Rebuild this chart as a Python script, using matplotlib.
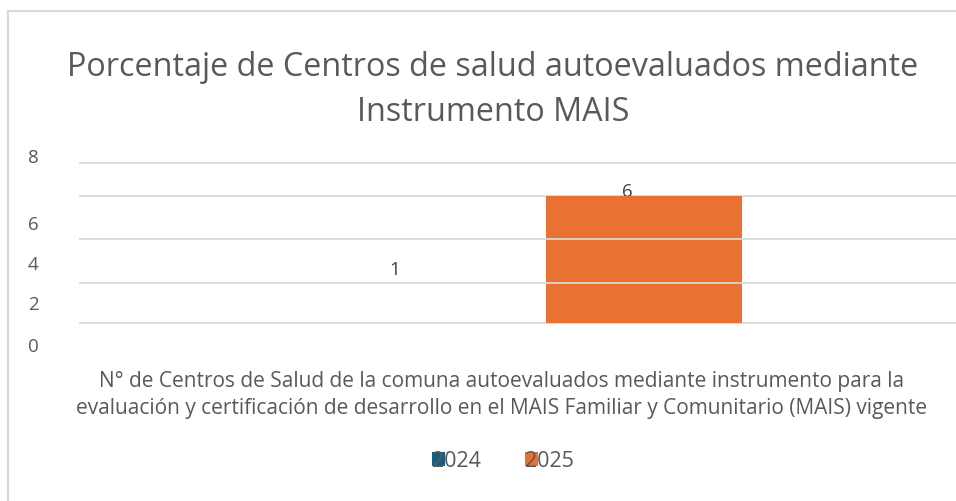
import matplotlib.pyplot as plt
from matplotlib.lines import Line2D
from matplotlib.patches import Patch

# datos del grafico
years = ["2024", "2025"]
values = [1, 6]
colors = ["#156082", "#E97132"]
category = ("N° de Centros de Salud de la comuna autoevaluados mediante instrumento para la\n"
            "evaluación y certificación de desarrollo en el MAIS Familiar y Comunitario (MAIS) vigente")
title = "Porcentaje de Centros de salud autoevaluados mediante\nInstrumento MAIS"
ytick_labels = ["0", "2", "4", "6", "8"]

W, H = 956, 502
TXT = "#595959"
GRID = "#D9D9D9"
plt.rcParams['font.family'] = ['Open Sans', 'DejaVu Sans']

fig = plt.figure(figsize=(W / 100, H / 100), dpi=100)

# area de trazado en pixeles: x 80..956, y 164..324
px_unit = 127 / 6.0            # pixeles por unidad del eje y
ymax = (324 - 164) / px_unit
ax = fig.add_axes([80 / W, (H - 324) / H, (W - 80) / W, (324 - 164) / H])
ax.set_xlim(-2.378, 2.092)
ax.set_ylim(0, ymax)
for s in ax.spines.values():
    s.set_visible(False)
ax.set_xticks([])
ax.set_yticks([])

# lineas de division
for gy in [324, 284, 240, 197, 164]:
    ax.axhline((324 - gy) / px_unit, color=GRID, lw=1.3, zorder=1, clip_on=False)

# barras (la de 2024 queda sin relleno)
xs = [-0.5, 0.5]
ax.bar(xs[1], values[1], width=1.0, color=colors[1], zorder=3)
ax.bar(xs[0], values[0], width=1.0, color="none", zorder=3)
# lineas de division por encima de la barra
for gy in [284, 240]:
    ax.axhline((324 - gy) / px_unit, xmin=(546 - 80) / 876, xmax=(742 - 80) / 876,
               color=GRID, lw=1.3, zorder=4)

# etiquetas de valor
ax.text(-0.77, (324 - 270) / px_unit, str(values[0]), ha="center", va="center",
        fontsize=13.5, color="#404040", zorder=2)
ax.text(0.413, (324 - 192) / px_unit, str(values[1]), ha="center", va="center",
        fontsize=13.5, color="#404040", zorder=2)

# etiquetas del eje y
for lab, py in zip(ytick_labels, [347, 305, 265, 225, 158]):
    fig.text(33 / W, 1 - py / H, lab, ha="center", va="center", fontsize=13.5, color=TXT)

# titulo
fig.text(493 / W, 1 - 90 / H, title, ha="center", va="center", fontsize=23.3,
         color=TXT, linespacing=1.45)

# categoria
fig.text(502 / W, 1 - 395 / H, category, ha="center", va="center", fontsize=15,
         color=TXT, linespacing=1.4)

# leyenda
handles = [Patch(facecolor=c) for c in colors]
fig.legend(handles, years, loc="center", bbox_to_anchor=(503 / W, 1 - 462 / H),
           ncol=2, frameon=False, handlelength=0.6, handleheight=0.6,
           handletextpad=-0.6, columnspacing=2.05, fontsize=15.5, labelcolor=TXT)

# borde del grafico
fig.add_artist(Line2D([8 / W, 8 / W], [0, 1 - 12 / H], color="#D9D9D9", lw=1.5))
fig.add_artist(Line2D([8 / W, 1], [1 - 12 / H, 1 - 12 / H], color="#D9D9D9", lw=1.5))

fig.savefig("out.png", dpi=100)
